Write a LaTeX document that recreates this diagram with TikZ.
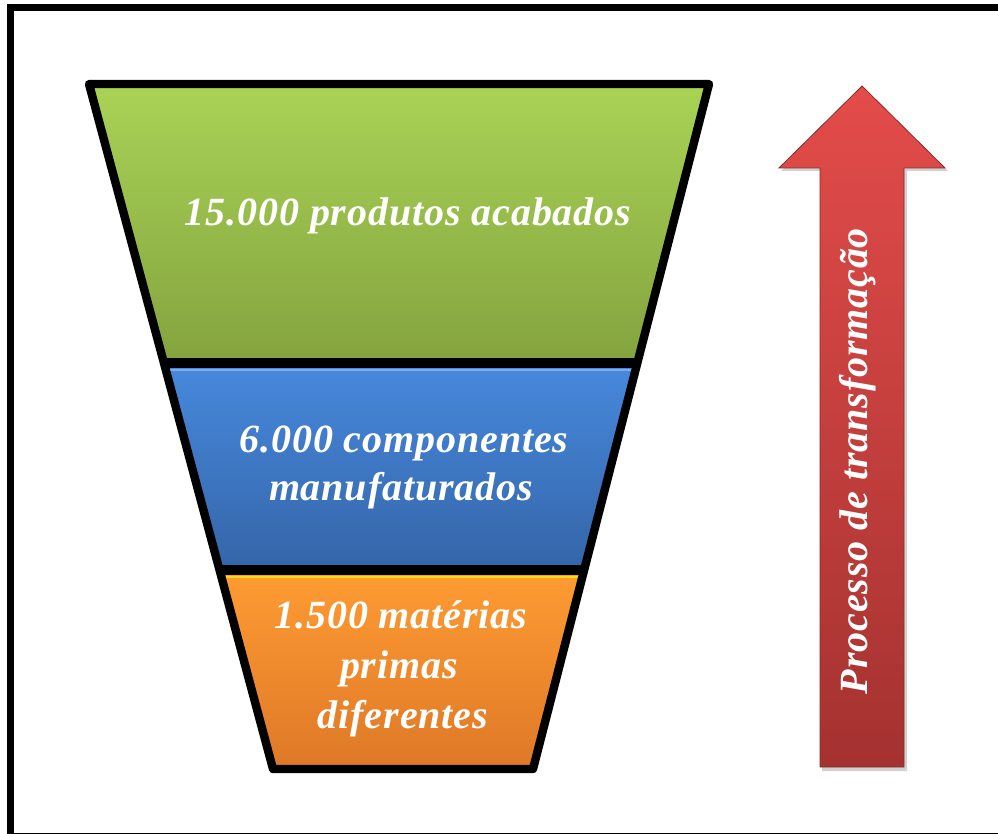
\documentclass[tikz,border=0pt]{standalone}
\usepackage{fontspec}
\setmainfont{Liberation Serif}
\newfontfamily\lblfont[LetterSpace=2.2]{Liberation Serif}
\usetikzlibrary{calc}
\definecolor{greenT}{HTML}{A9D356}
\definecolor{greenB}{HTML}{84A33F}
\definecolor{blueT}{HTML}{4789DD}
\definecolor{blueB}{HTML}{3465A8}
\definecolor{orangeT}{HTML}{FF9C33}
\definecolor{orangeB}{HTML}{DE7827}
\definecolor{redT}{HTML}{E34C4A}
\definecolor{redB}{HTML}{A43230}
\tikzset{
  lbl/.style={anchor=base, text=white, inner sep=0pt,
    font=\lblfont\fontsize{30}{37.5}\selectfont\bfseries\itshape},
  funnelline/.style={line width=6.3pt, line join=round, line cap=round},
}
\begin{document}
\begin{tikzpicture}[x=0.75pt,y=-0.75pt]
\useasboundingbox (0,0) rectangle (998,834);
\fill[white] (0,0) rectangle (998,834);
% outer frame
\begin{scope}
  \clip (0,0) rectangle (998,834);
  \draw[line width=5.25pt] (10.5,7.5) rectangle (1010,836.5);
\end{scope}
% funnel
\coordinate (TL) at (89,84);
\coordinate (TR) at (709,84);
\coordinate (BR) at (533,769);
\coordinate (BL) at (273,769);
\coordinate (S1L) at ($(TL)!0.4073!(BL)$);
\coordinate (S1R) at ($(TR)!0.4073!(BR)$);
\coordinate (S2L) at ($(TL)!0.7095!(BL)$);
\coordinate (S2R) at ($(TR)!0.7095!(BR)$);
\begin{scope}
  \clip (TL) -- (TR) -- (BR) -- (BL) -- cycle;
  \shade[top color=greenT, bottom color=greenB] (0,84) rectangle (998,363);
  \shade[top color=blueT, bottom color=blueB] (0,363) rectangle (998,570);
  \shade[top color=orangeT, bottom color=orangeB] (0,570) rectangle (998,769);
  \draw[line width=1.5pt, blueT!70!white] (0,369.5) -- (998,369.5);
  \draw[line width=1.5pt, yellow!70!orangeT] (0,576.5) -- (998,576.5);
\end{scope}
\draw[line width=6.8pt] (S1L) -- (S1R);
\draw[line width=6.8pt] (S2L) -- (S2R);
\draw[funnelline] (TL) -- (TR) -- (BR) -- (BL) -- cycle;
% labels
\node[lbl] (l1) at (408,225) {15.000 produtos acabados};
\node[lbl] (l2a) at (404,452) {6.000 componentes};
\node[lbl] (l2b) at (401,500) {manufaturados};
\node[lbl] (l3a) at (401,628) {1.500 matérias};
\node[lbl] (l3b) at (399,678) {primas};
\node[lbl] (l3c) at (403,728) {diferentes};
% arrow
\fill[black, opacity=0.18] (864,89) -- (948,171) -- (907,171) -- (907,771) -- (822,771) -- (822,171) -- (781,171) -- cycle;
\shade[top color=redT, bottom color=redB, draw=redB!85!black, line width=0.6pt]
  (862,86) -- (945,168) -- (904,168) -- (904,767) -- (820,767) -- (820,168) -- (779,168) -- cycle;
\node[lbl, rotate=90] (arr) at (867,461) {Processo de transformação};
\end{tikzpicture}
\end{document}
